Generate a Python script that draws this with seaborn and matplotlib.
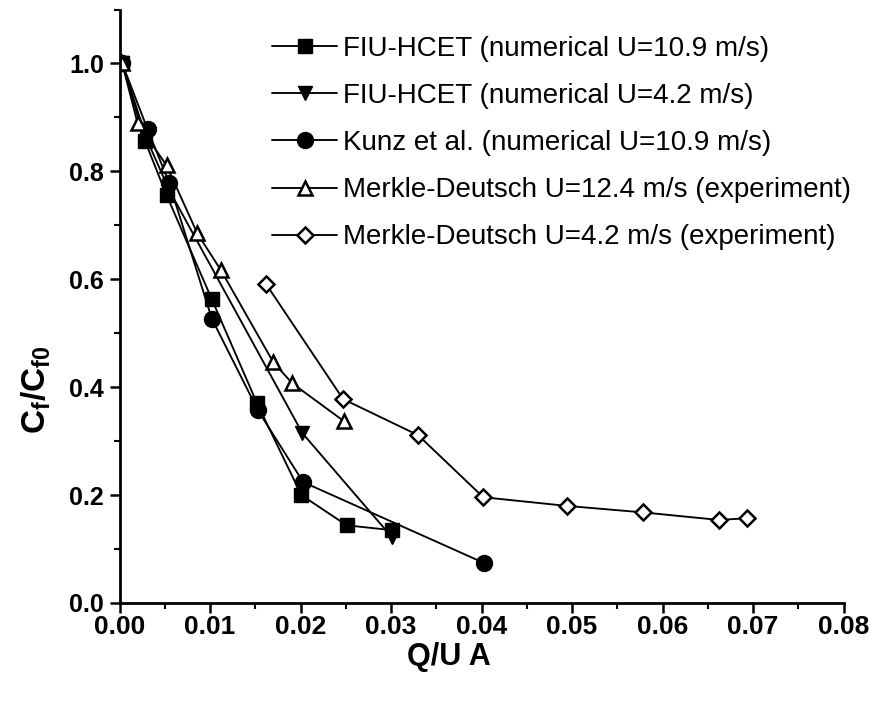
import matplotlib
matplotlib.use("Agg")
import matplotlib.pyplot as plt
import seaborn as sns
import numpy as np
from matplotlib.ticker import MultipleLocator

sns.set_style("ticks")
plt.rcParams['font.family'] = ['Liberation Sans', 'DejaVu Sans']
plt.rcParams['mathtext.fontset'] = 'custom'
plt.rcParams['mathtext.rm'] = 'Liberation Sans:bold'
plt.rcParams['mathtext.bf'] = 'Liberation Sans:bold'
plt.rcParams['mathtext.it'] = 'Liberation Sans:bold'

# ---- data ----
sq_x = [0.0003, 0.0028, 0.0052, 0.0102, 0.0152, 0.0201, 0.0251, 0.0301]
sq_y = [1.0, 0.857, 0.756, 0.563, 0.370, 0.200, 0.144, 0.135]

dt_x = [0.0003, 0.0030, 0.0055, 0.0202, 0.0301]
dt_y = [1.0, 0.860, 0.765, 0.315, 0.122]

ci_x = [0.0003, 0.0031, 0.0055, 0.0102, 0.0153, 0.0203, 0.0403]
ci_y = [1.0, 0.878, 0.778, 0.527, 0.357, 0.224, 0.074]

ut_x = [0.0003, 0.0020, 0.0052, 0.0086, 0.0112, 0.0170, 0.0191, 0.0248]
ut_y = [1.0, 0.889, 0.811, 0.685, 0.617, 0.446, 0.407, 0.337]

di_x = [0.0162, 0.0247, 0.0330, 0.0402, 0.0494, 0.0578, 0.0662, 0.0693]
di_y = [0.591, 0.378, 0.311, 0.196, 0.180, 0.168, 0.154, 0.157]

labels = [
    "FIU-HCET (numerical U=10.9 m/s)",
    "FIU-HCET (numerical U=4.2 m/s)",
    "Kunz et al. (numerical U=10.9 m/s)",
    "Merkle-Deutsch U=12.4 m/s (experiment)",
    "Merkle-Deutsch U=4.2 m/s (experiment)",
]
x_ticks = [0.00, 0.01, 0.02, 0.03, 0.04, 0.05, 0.06, 0.07, 0.08]
y_ticks = [0.0, 0.2, 0.4, 0.6, 0.8, 1.0]

fig = plt.figure(figsize=(8.72, 7.04), dpi=100)
W, H = 872, 704
x0, x1, y0, y1 = 119.5, 843.5, 603, 9.5
ax = fig.add_axes([x0 / W, (H - y0) / H, (x1 - x0) / W, (y0 - y1) / H])

series = [
    (sq_x, sq_y, 's', 'black', 9.5, 1.0),
    (dt_x, dt_y, 'v', 'black', 10.5, 1.0),
    (ci_x, ci_y, 'o', 'black', 11.5, 1.0),
    (ut_x, ut_y, '^', 'white', 9.5, 1.8),
    (di_x, di_y, 'D', 'white', 8.3, 1.8),
]
for (xs, ys, m, fc, ms, mew), lab in zip(series, labels):
    sns.lineplot(x=xs, y=ys, ax=ax, color='black', linewidth=1.35,
                 marker=m, markersize=ms, markerfacecolor=fc,
                 markeredgecolor='black', markeredgewidth=mew,
                 label=lab, sort=False, errorbar=None)

ax.set_xlim(0, 0.08)
ax.set_ylim(0, 1.1)
ax.set_xticks(x_ticks)
ax.set_xticklabels([f"{v:.2f}" for v in x_ticks])
ax.set_yticks(y_ticks)
ax.set_yticklabels([f"{v:.1f}" for v in y_ticks])
ax.xaxis.set_minor_locator(MultipleLocator(0.005))
ax.yaxis.set_minor_locator(MultipleLocator(0.1))
ax.tick_params(which='major', direction='out', length=7, width=1.8,
               labelsize=19, pad=2, color='black', labelcolor='black')
ax.tick_params(axis='y', which='major', labelsize=18, pad=4)
ax.tick_params(which='minor', direction='out', length=4, width=1.5, color='black')
for lbl in ax.get_xticklabels() + ax.get_yticklabels():
    lbl.set_fontweight('bold')

for s in ['top', 'right']:
    ax.spines[s].set_visible(False)
for s in ['left', 'bottom']:
    ax.spines[s].set_linewidth(2.0)
    ax.spines[s].set_color('black')

ax.set_xlabel("Q/U A", fontsize=22, fontweight='bold', color='black')
ax.xaxis.set_label_coords((449 - x0) / (x1 - x0), -(642 - y0) / (y0 - y1))
ax.set_ylabel(r"$\mathbf{C_f/C_{f0}}$", fontsize=24, color='black')
ax.yaxis.set_label_coords(-(119.5 - 53) / (x1 - x0), (603 - 390) / (y0 - y1))

leg = ax.legend(loc='upper left', bbox_to_anchor=(272 / W, 1 - 36 / H),
                bbox_transform=fig.transFigure, frameon=False, fontsize=20,
                handlelength=2.35, handletextpad=0.2, labelspacing=0.76,
                borderpad=0, borderaxespad=0)
for t in leg.get_texts():
    t.set_color('black')

fig.savefig("out.png", dpi=100)
